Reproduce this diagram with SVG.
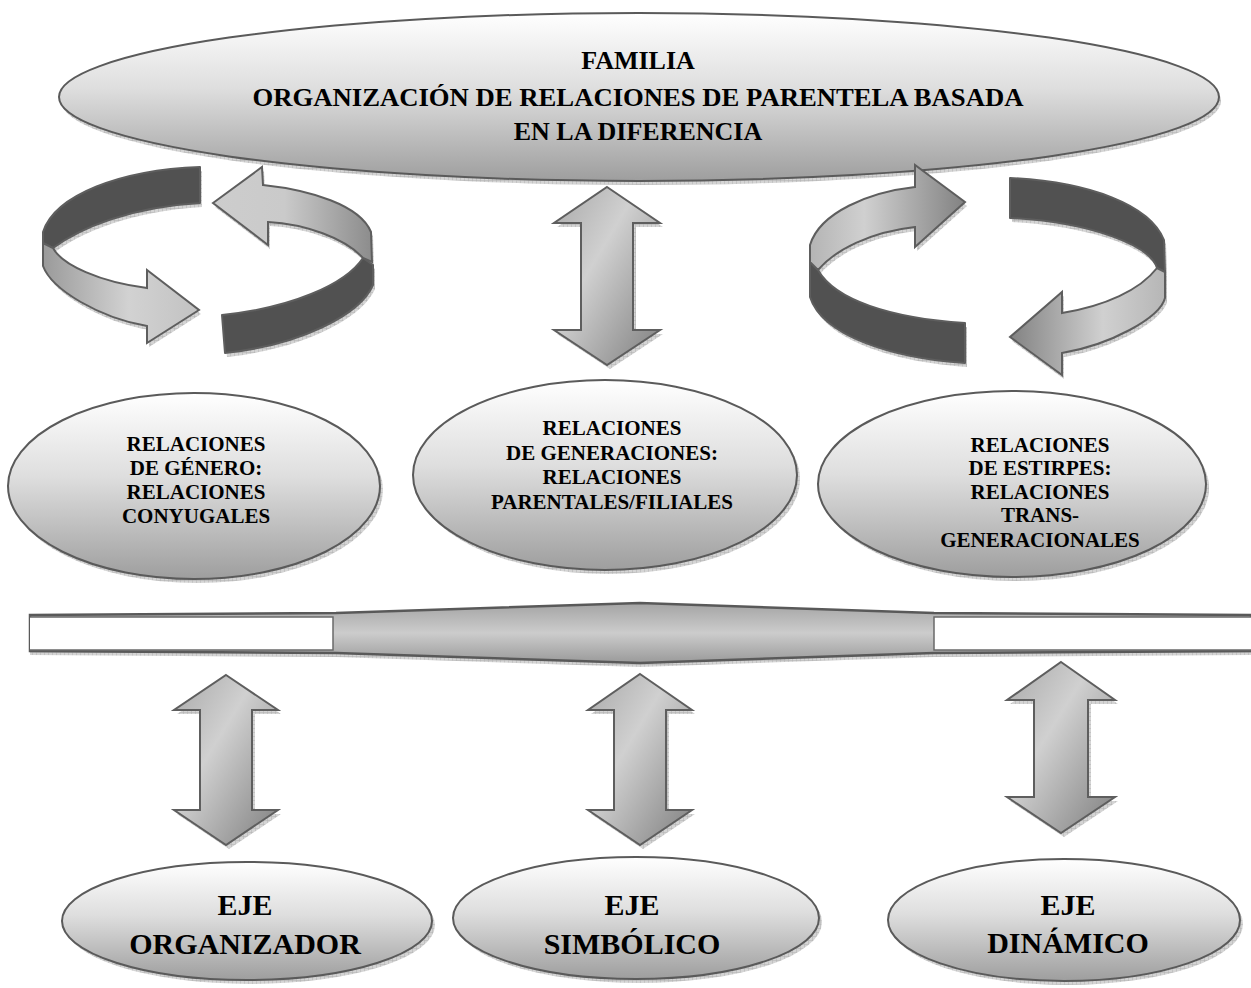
<svg xmlns="http://www.w3.org/2000/svg" xmlns:xlink="http://www.w3.org/1999/xlink" width="1251" height="988" viewBox="0 0 1251 988">
<style>
.t{font-family:"Liberation Serif","Times New Roman",serif;font-weight:bold;fill:#000;text-anchor:middle}
.t1{font-size:26px}
.t2{font-size:21px}
.t3{font-size:30px}
.ell{fill:url(#gEll);stroke:#5a5a5a;stroke-width:2}
.shd{fill:url(#hatch);stroke:none}
.dark{fill:#515151;stroke:#5e5e5e;stroke-width:2;stroke-linejoin:round}
.arr{stroke:#5e5e5e;stroke-width:2;stroke-linejoin:miter}
</style>
<defs>
<linearGradient id="gEll" x1="0" y1="0" x2="0" y2="1">
<stop offset="0" stop-color="#ffffff"/>
<stop offset="0.45" stop-color="#dedede"/>
<stop offset="1" stop-color="#9e9e9e"/>
</linearGradient>
<linearGradient id="gV" x1="0" y1="0" x2="1" y2="1">
<stop offset="0" stop-color="#a8a8a8"/>
<stop offset="0.4" stop-color="#d0d0d0"/>
<stop offset="1" stop-color="#7e7e7e"/>
</linearGradient>
<linearGradient id="gA" x1="0" y1="0" x2="1" y2="0">
<stop offset="0" stop-color="#9a9a9a"/>
<stop offset="0.55" stop-color="#d2d2d2"/>
<stop offset="1" stop-color="#c2c2c2"/>
</linearGradient>
<linearGradient id="gB" x1="0" y1="0" x2="1" y2="0">
<stop offset="0" stop-color="#cdcdcd"/>
<stop offset="0.45" stop-color="#cacaca"/>
<stop offset="1" stop-color="#8c8c8c"/>
</linearGradient>
<linearGradient id="gC" x1="0" y1="0" x2="1" y2="0">
<stop offset="0" stop-color="#b4b4b4"/>
<stop offset="0.35" stop-color="#d0d0d0"/>
<stop offset="1" stop-color="#828282"/>
</linearGradient>
<linearGradient id="gD" x1="0" y1="0" x2="1" y2="0">
<stop offset="0" stop-color="#828282"/>
<stop offset="0.6" stop-color="#d0d0d0"/>
<stop offset="1" stop-color="#b6b6b6"/>
</linearGradient>
<linearGradient id="gBand" x1="0" y1="0" x2="0" y2="1">
<stop offset="0" stop-color="#a4a4a4"/>
<stop offset="0.5" stop-color="#cccccc"/>
<stop offset="1" stop-color="#9a9a9a"/>
</linearGradient>
<pattern id="hatch" width="4" height="4" patternUnits="userSpaceOnUse">
<rect width="4" height="4" fill="#d4d4d4"/>
<path d="M0 0H4M0 0V4" stroke="#b0b0b0" stroke-width="1"/>
</pattern>
<path id="pAdark" d="M200 167 C120 170 55 195 43 232 L43 243 L53 248 C80 228 130 207 200 203 Z"/>
<path id="pAlight" d="M43 243 L43 266 C52 290 100 318 147 326 L147 343 L199 310 L147 270 L147 288 C100 282 62 265 53 248 Z"/>
<path id="pBlight" d="M213 203 L262 167 L263 185 C310 190 360 205 371 232 L372 262 L363 258 C345 238 305 224 268 222 L268 245 Z"/>
<path id="pBdark" d="M363 258 L373 265 L373 285 C360 315 300 345 225 353 L222 315 C290 308 345 285 363 258 Z"/>
<path id="pClight" d="M965 202 L915 165 L915 187 C870 192 820 212 810 245 L810 262 L818 270 C835 250 870 232 915 227 L915 247 Z"/>
<path id="pCdark" d="M810 262 L810 297 C822 335 890 358 965 363 L965 323 C890 318 835 300 818 270 Z"/>
<path id="pDdark" d="M1010 178 C1090 182 1150 205 1164 240 L1165 272 L1157 268 C1150 245 1090 222 1010 218 Z"/>
<path id="pDlight" d="M1157 268 C1140 290 1105 306 1062 313 L1062 292 L1010 337 L1062 375 L1062 353 C1110 345 1160 318 1165 298 L1165 272 Z"/>
<path id="vTop" d="M607 187 L660 223 L633 223 L633 330 L660 330 L607 365 L554 330 L581 330 L581 223 L554 223 Z"/>
<path id="vL" d="M226 675 L278 710 L252 710 L252 810 L278 810 L226 845 L174 810 L200 810 L200 710 L174 710 Z"/>
<path id="vM" d="M640 674 L692 710 L666 710 L666 810 L692 810 L640 845 L588 810 L614 810 L614 710 L588 710 Z"/>
<path id="vR" d="M1061 662 L1115 700 L1088 700 L1088 797 L1115 797 L1061 833 L1007 797 L1034 797 L1034 700 L1007 700 Z"/>
</defs>
<rect width="1251" height="988" fill="#ffffff"/>

<g id="familia">
<ellipse class="shd" cx="641" cy="101" rx="580" ry="84"/>
<ellipse class="ell" cx="639" cy="97" rx="580" ry="84"/>
<text class="t t1" x="638" y="69">FAMILIA</text>
<text class="t t1" x="638" y="106" textLength="771" lengthAdjust="spacingAndGlyphs">ORGANIZACIÓN DE RELACIONES DE PARENTELA BASADA</text>
<text class="t t1" x="638" y="140">EN LA DIFERENCIA</text>
</g>

<g id="connectors">
<g id="ring-left">
<use xlink:href="#pAdark" class="shd" transform="translate(2,4)"/>
<use xlink:href="#pAlight" class="shd" transform="translate(2,4)"/>
<use xlink:href="#pBlight" class="shd" transform="translate(2,4)"/>
<use xlink:href="#pBdark" class="shd" transform="translate(2,4)"/>
<use xlink:href="#pAdark" class="dark"/>
<use xlink:href="#pAlight" class="arr" fill="url(#gA)"/>
<use xlink:href="#pBdark" class="dark"/>
<use xlink:href="#pBlight" class="arr" fill="url(#gB)"/>
</g>
<g id="ring-right">
<use xlink:href="#pClight" class="shd" transform="translate(2,4)"/>
<use xlink:href="#pCdark" class="shd" transform="translate(2,4)"/>
<use xlink:href="#pDdark" class="shd" transform="translate(2,4)"/>
<use xlink:href="#pDlight" class="shd" transform="translate(2,4)"/>
<use xlink:href="#pCdark" class="dark"/>
<use xlink:href="#pClight" class="arr" fill="url(#gC)"/>
<use xlink:href="#pDdark" class="dark"/>
<use xlink:href="#pDlight" class="arr" fill="url(#gD)"/>
</g>
<g id="arrow-top">
<use xlink:href="#vTop" class="shd" transform="translate(3,4)"/>
<use xlink:href="#vTop" class="arr" fill="url(#gV)"/>
</g>
<g id="arrow-left">
<use xlink:href="#vL" class="shd" transform="translate(3,4)"/>
<use xlink:href="#vL" class="arr" fill="url(#gV)"/>
</g>
<g id="arrow-mid">
<use xlink:href="#vM" class="shd" transform="translate(3,4)"/>
<use xlink:href="#vM" class="arr" fill="url(#gV)"/>
</g>
<g id="arrow-right">
<use xlink:href="#vR" class="shd" transform="translate(3,4)"/>
<use xlink:href="#vR" class="arr" fill="url(#gV)"/>
</g>
</g>

<g id="band">
<path class="shd" d="M30 619 L336 617 L640 607 L934 617 L1251 619 L1251 655 L934 657 L640 667 L336 657 L30 655 Z"/>
<path d="M30 615 L336 613 L640 603 L934 613 L1251 615 L1251 651 L934 653 L640 663 L336 653 L30 651 Z" fill="url(#gBand)" stroke="#595959" stroke-width="2.5" stroke-linejoin="miter"/>
<rect x="30" y="617" width="303" height="33" fill="#ffffff"/>
<path d="M30 617 H333 V650 H30" fill="none" stroke="#6a6a6a" stroke-width="1.5"/>
<rect x="934" y="617" width="317" height="33" fill="#ffffff"/>
<path d="M1251 617 H934 V650 H1251" fill="none" stroke="#6a6a6a" stroke-width="1.5"/>
</g>

<g id="genero">
<ellipse class="shd" cx="197" cy="490" rx="186" ry="93"/>
<ellipse class="ell" cx="194" cy="486" rx="186" ry="93"/>
<text class="t t2" x="196" y="451">RELACIONES</text>
<text class="t t2" x="196" y="475">DE GÉNERO:</text>
<text class="t t2" x="196" y="499">RELACIONES</text>
<text class="t t2" x="196" y="523">CONYUGALES</text>
</g>

<g id="generaciones">
<ellipse class="shd" cx="608" cy="479" rx="192" ry="95"/>
<ellipse class="ell" cx="605" cy="475" rx="192" ry="95"/>
<text class="t t2" x="612" y="435">RELACIONES</text>
<text class="t t2" x="612" y="460">DE GENERACIONES:</text>
<text class="t t2" x="612" y="484">RELACIONES</text>
<text class="t t2" x="612" y="509">PARENTALES/FILIALES</text>
</g>

<g id="estirpes">
<ellipse class="shd" cx="1015" cy="488" rx="194" ry="93"/>
<ellipse class="ell" cx="1012" cy="484" rx="194" ry="93"/>
<text class="t t2" x="1040" y="452">RELACIONES</text>
<text class="t t2" x="1040" y="475">DE ESTIRPES:</text>
<text class="t t2" x="1040" y="499">RELACIONES</text>
<text class="t t2" x="1040" y="522">TRANS-</text>
<text class="t t2" x="1040" y="547">GENERACIONALES</text>
</g>

<g id="eje-organizador">
<ellipse class="shd" cx="250" cy="925" rx="185" ry="59"/>
<ellipse class="ell" cx="247" cy="921" rx="185" ry="59"/>
<text class="t t3" x="245" y="915">EJE</text>
<text class="t t3" x="245" y="954">ORGANIZADOR</text>
</g>

<g id="eje-simbolico">
<ellipse class="shd" cx="639" cy="922" rx="183" ry="61"/>
<ellipse class="ell" cx="636" cy="918" rx="183" ry="61"/>
<text class="t t3" x="632" y="915">EJE</text>
<text class="t t3" x="632" y="954">SIMBÓLICO</text>
</g>

<g id="eje-dinamico">
<ellipse class="shd" cx="1067" cy="924" rx="176" ry="61"/>
<ellipse class="ell" cx="1064" cy="920" rx="176" ry="61"/>
<text class="t t3" x="1068" y="915">EJE</text>
<text class="t t3" x="1068" y="953">DINÁMICO</text>
</g>
</svg>
